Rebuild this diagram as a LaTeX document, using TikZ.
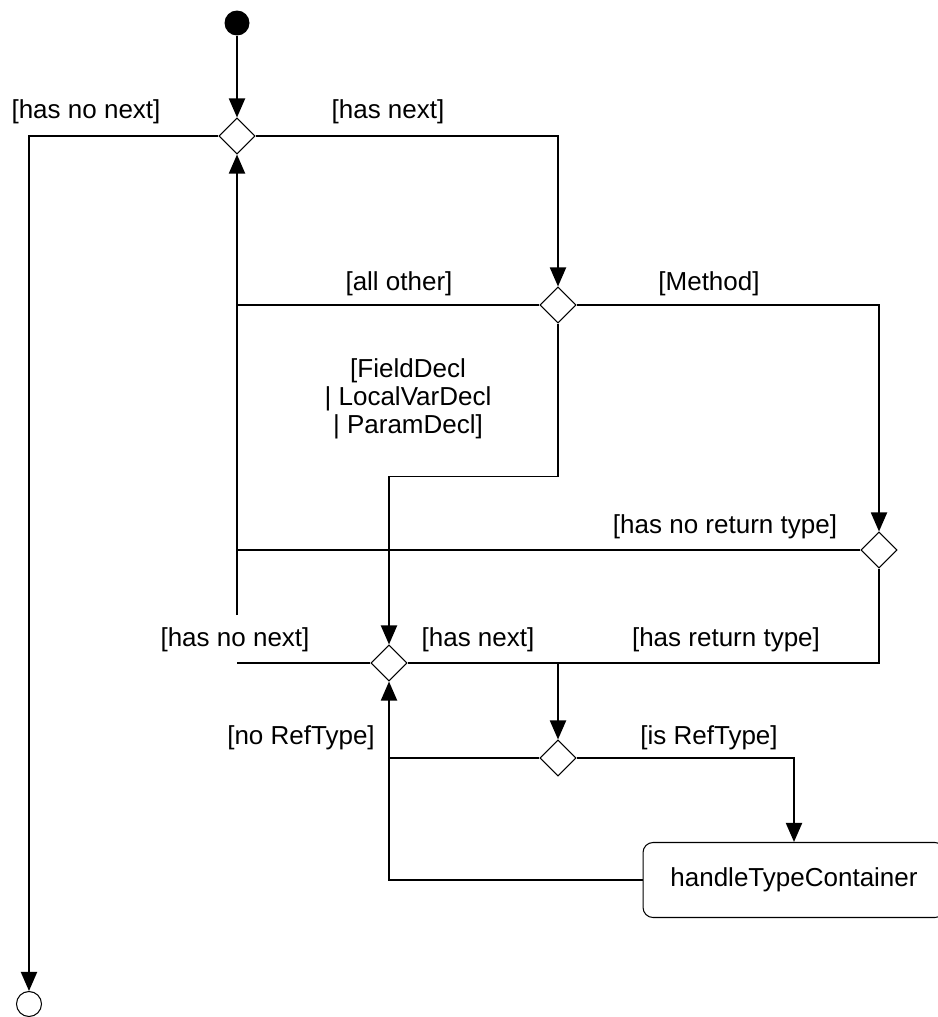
\documentclass[tikz,border=0pt]{standalone}
\usepackage{fontspec}
\setmainfont{Liberation Sans}
\usetikzlibrary{shapes.geometric,arrows.meta,positioning}

\begin{document}
\begin{tikzpicture}[x=0.02cm,y=-0.02cm,
	font=\fontsize{14.8}{15.9}\selectfont,
	flow/.style={line width=1.1pt,-{Triangle[length=0.38cm,width=0.32cm]}},
	wire/.style={line width=1.1pt},
	decision/.style={diamond,draw,line width=0.6pt,fill=white,minimum size=0.72cm,inner sep=0pt},
	guard/.style={inner sep=0pt}]
	\useasboundingbox (0,0) rectangle (937,1017);

	% start, end and the action
	\node[circle,fill=black,minimum size=0.5cm,inner sep=0pt] (start) at (237,23) {};
	\node[circle,draw,line width=0.6pt,minimum size=0.5cm,inner sep=0pt] (final) at (29,1004) {};
	\node[draw,rounded corners=0.2cm,line width=0.6pt,minimum width=6.04cm,minimum height=1.5cm] (handle) at (794,880) {handleTypeContainer};

	% decisions
	\node[decision] (next) at (237,136) {};
	\node[decision] (kind) at (558,305) {};
	\node[decision] (ret) at (879,550) {};
	\node[decision] (decl) at (389,663) {};
	\node[decision] (ref) at (558,758) {};
	\coordinate (loop) at (237,615);

	% connectors
	\draw[flow] (start) -- (next);
	\draw[flow] (next.west) -| (final);
	\draw[flow] (next.east) -| (kind);
	\draw[flow] (kind.east) -| (ret);
	\draw[flow] (kind.south) -- ++(0,153) -| (decl);
	\draw[wire] (kind.west) -- (kind.west -| next);
	\draw[wire] (ret.west) -- (ret.west -| next);
	\draw[wire] (ret.south) |- (decl.east);
	\draw[wire] (decl.west) -- (decl.west -| next);
	\draw[flow] (loop) -- (next);
	\draw[flow] (ref |- decl) -- (ref);
	\draw[flow] (ref.east) -| (handle);
	\draw[wire] (ref.west) -- (ref.west -| decl);
	\draw[flow] (handle.west) -| (decl);

	% guards
	\node[guard] (g1) at (86,112) {[has no next]};
	\node[guard] (g2) at (388,112) {[has next]};
	\node[guard] (g3) at (399,284) {[all other]};
	\node[guard] (g4) at (709,284) {[Method]};
	\node[guard,align=center] (g5) at (408,399) {[FieldDecl\\| LocalVarDecl\\| ParamDecl]};
	\node[guard] (g6) at (725,527) {[has no return type]};
	\node[guard] (g7) at (235,640) {[has no next]};
	\node[guard] (g8) at (478,640) {[has next]};
	\node[guard] (g9) at (726,640) {[has return type]};
	\node[guard] (g10) at (301,738) {[no RefType]};
	\node[guard] (g11) at (709,738) {[is RefType]};
\end{tikzpicture}
\end{document}
